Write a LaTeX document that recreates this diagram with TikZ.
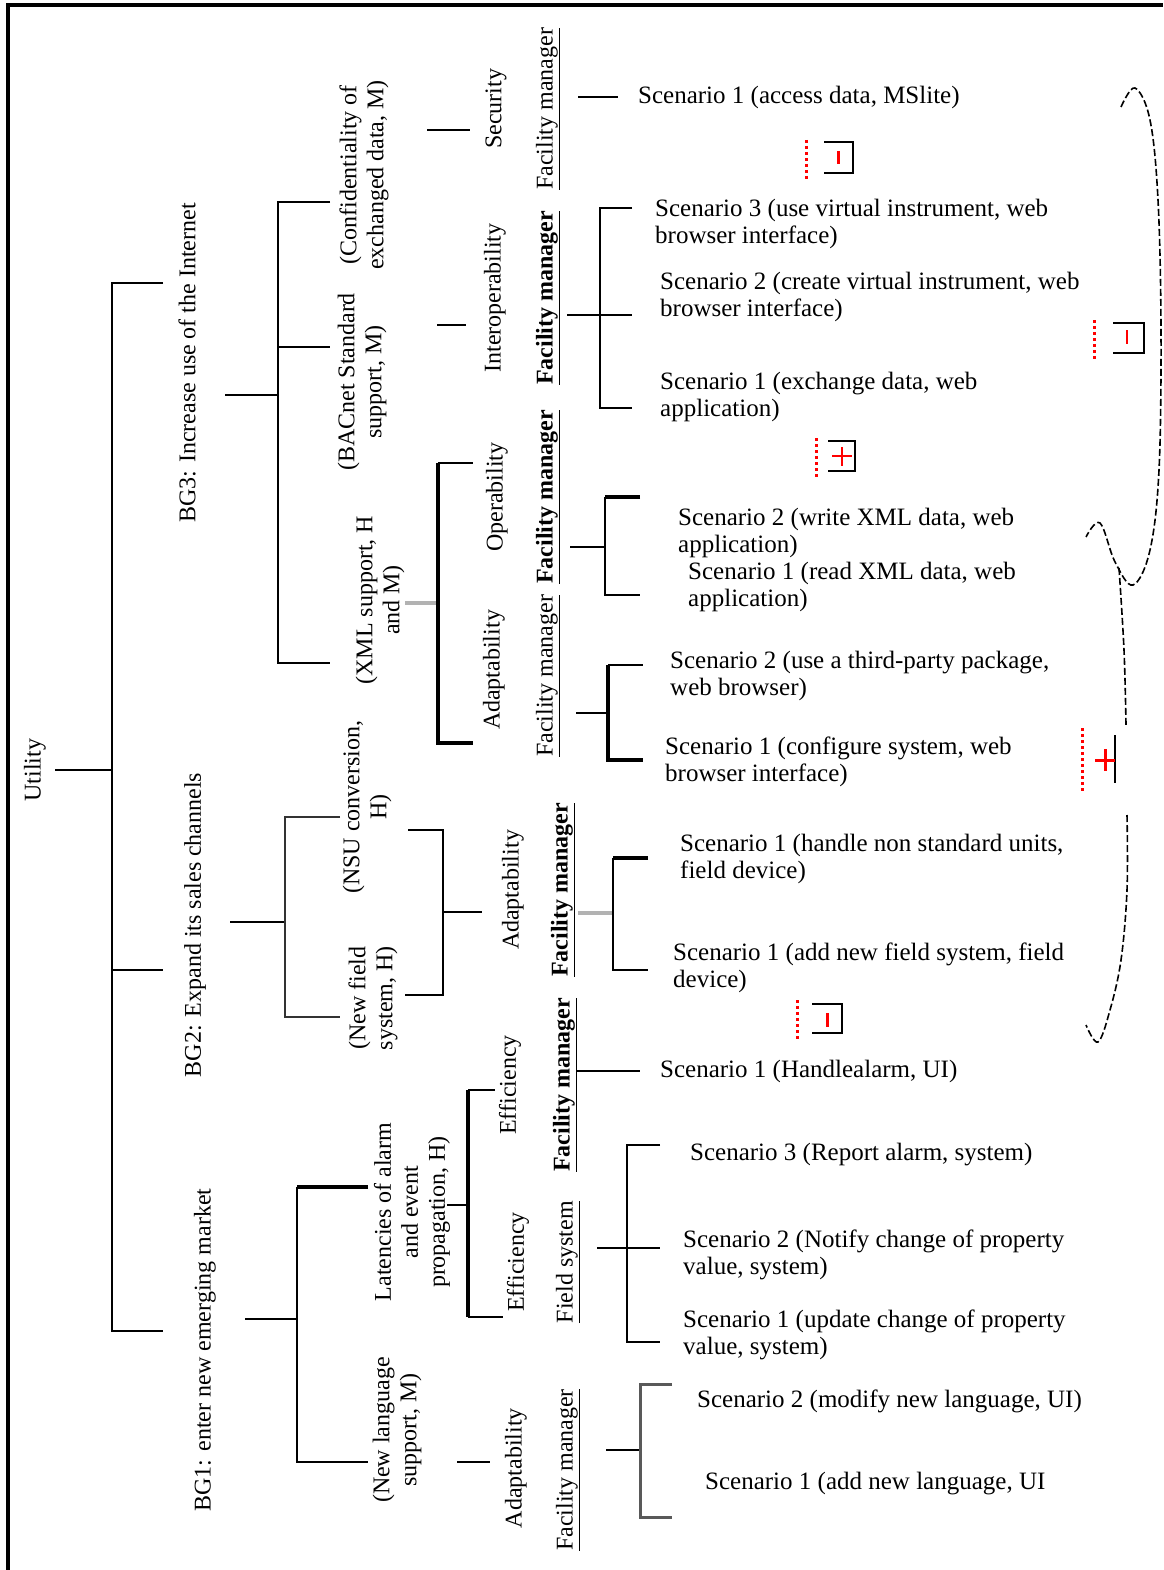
\documentclass[tikz,border=0pt]{standalone}
\usepackage{fontspec}
\setmainfont{Liberation Serif}
\newcommand\fmlab{\underline{Facility manager}}
\begin{document}
\begin{tikzpicture}[x=1pt,y=-1pt,
  lab/.style={rotate=90, inner sep=0pt, font=\fontsize{24}{27}\selectfont, align=center},
  scen/.style={anchor=west, inner sep=0pt, font=\fontsize{25}{27}\selectfont, align=left},
  ln/.style={line width=2pt},
  thk/.style={line width=4pt},
  gry/.style={line width=3.5pt, gray!60},
  mk/.style={red, line width=3pt, dash pattern=on 3pt off 3pt},
  brc/.style={line width=1.6pt, dash pattern=on 7pt off 3pt},
  rbar/.style={red, line width=3pt},
  bk/.style={line width=2pt}]
\useasboundingbox (0,0) rectangle (1163,1570);
\draw[line width=4pt] (8,1570) -- (8,5) -- (1163,5);

% ---- labels (rotated) ----
\node[lab] (utility) at (35,770) {Utility};
\node[lab] (bg3) at (187,363) {BG3: Increase use of the Internet};
\node[lab] (bg2) at (195,925) {BG2: Expand its sales channels};
\node[lab] (bg1) at (205,1350) {BG1: enter new emerging market};
\node[lab] (conf) at (364,175) {(Confidentiality of\\exchanged data, M)};
\node[lab] (bacnet) at (362,382) {(BACnet Standard\\support, M)};
\node[lab] (xml) at (380,600) {(XML support, H\\and M)};
\node[lab] (nsu) at (367,807) {(NSU conversion,\\H)};
\node[lab] (newfield) at (373,998) {(New field\\system, H)};
\node[lab] (latency) at (412,1212) {Latencies of alarm\\and event\\propagation, H)};
\node[lab] (lang) at (397,1430) {(New language\\support, M)};
\node[lab] (security) at (496,109) {Security};
\node[lab] (interop) at (495,298) {Interoperability};
\node[lab] (operab) at (497,497) {Operability};
\node[lab] (adaptA) at (494,670) {Adaptability};
\node[lab] (adaptB) at (513,890) {Adaptability};
\node[lab] (effA) at (510,1085) {Efficiency};
\node[lab] (effB) at (518,1262) {Efficiency};
\node[lab] (adaptC) at (516,1468) {Adaptability};
\node[lab] (fmA) at (548,109) {\fmlab};
\node[lab] (fmB) at (548,298) {\bfseries\fmlab};
\node[lab] (fmC) at (548,497) {\bfseries\fmlab};
\node[lab] (fmD) at (548,676) {\fmlab};
\node[lab] (fmE) at (563,890) {\bfseries\fmlab};
\node[lab] (fmF) at (565,1085) {\bfseries\fmlab};
\node[lab] (fsys) at (568,1262) {\underline{Field system}};
\node[lab] (fmG) at (568,1470) {\fmlab};

% ---- scenarios ----
\node[scen] (sA) at (638,97) {Scenario 1 (access data, MSlite)};
\node[scen] (sB3) at (655,224) {Scenario 3 (use virtual instrument, web\\browser interface)};
\node[scen] (sB2) at (660,297) {Scenario 2 (create virtual instrument, web\\browser interface)};
\node[scen] (sB1) at (660,397) {Scenario 1 (exchange data, web\\application)};
\node[scen] (sC2) at (678,533) {Scenario 2 (write XML data, web\\application)};
\node[scen] (sC1) at (688,587) {Scenario 1 (read XML data, web\\application)};
\node[scen] (sD2) at (670,676) {Scenario 2 (use a third-party package,\\web browser)};
\node[scen] (sD1) at (665,762) {Scenario 1 (configure system, web\\browser interface)};
\node[scen] (sE1) at (680,859) {Scenario 1 (handle non standard units,\\field device)};
\node[scen] (sE2) at (673,968) {Scenario 1 (add new field system, field\\device)};
\node[scen] (sF) at (660,1071) {Scenario 1 (Handlealarm, UI)};
\node[scen] (sG3) at (690,1155) {Scenario 3 (Report alarm, system)};
\node[scen] (sG2) at (683,1255) {Scenario 2 (Notify change of property\\value, system)};
\node[scen] (sG1) at (683,1335) {Scenario 1 (update change of property\\value, system)};
\node[scen] (sH2) at (697,1401) {Scenario 2 (modify new language, UI)};
\node[scen] (sH1) at (705,1484) {Scenario 1 (add new language, UI};

% ---- connectors ----
\draw[ln] (55,770) -- (112,770);
\draw[ln] (163,283) -- (112,283) -- (112,1331) -- (163,1331);
\draw[ln] (112,970) -- (163,970);
% BG3
\draw[ln] (225,395) -- (278,395);
\draw[line width=2.6pt] (330,202) -- (278,202) -- (278,663) -- (330,663);
\draw[ln] (278,347) -- (330,347);
\draw[ln] (427,130) -- (470,130);
\draw[ln] (578,97) -- (618,97);
\draw[ln] (437,325) -- (466,325);
\draw[ln] (567,315) -- (632,315);
\draw[ln] (632,208) -- (600,208) -- (600,408) -- (632,408);
\draw[gry] (405,603) -- (438,603);
\draw[ln] (438,463) -- (473,463);
\draw[thk] (438,463) -- (438,743) -- (473,743);
\draw[ln] (570,547) -- (605,547);
\draw[thk] (640,497) -- (605,497);
\draw[ln] (605,497) -- (605,595) -- (640,595);
\draw[ln] (576,713) -- (608,713);
\draw[ln] (608,665) -- (643,665);
\draw[line width=3.5pt] (608,665) -- (608,760) -- (643,760);
% BG2
\draw[ln] (230,922) -- (285,922);
\draw[ln, black!80] (340,817) -- (285,817) -- (285,1017) -- (340,1017);
\draw[ln] (408,830) -- (443,830) -- (443,995) -- (405,995);
\draw[ln] (443,912) -- (482,912);
\draw[gry] (578,913) -- (613,913);
\draw[thk] (648,858) -- (613,858);
\draw[ln] (613,858) -- (613,970) -- (648,970);
% BG1
\draw[ln] (245,1319) -- (297,1319);
\draw[thk] (368,1187) -- (297,1187);
\draw[ln] (297,1187) -- (297,1462) -- (368,1462);
\draw[ln] (447,1205) -- (468,1205);
\draw[thk] (468,1090) -- (468,1317);
\draw[ln] (468,1090) -- (495,1090);
\draw[ln] (468,1317) -- (503,1317);
\draw[ln] (576,1071) -- (640,1071);
\draw[ln] (597,1248) -- (660,1248);
\draw[ln] (660,1145) -- (627,1145) -- (627,1342) -- (660,1342);
\draw[ln] (457,1462) -- (490,1462);
\draw[ln] (606,1450) -- (640,1450);
\draw[line width=3pt, black!65] (672,1384) -- (640,1384) -- (640,1517) -- (672,1517);

% ---- markers ----
% marker 1 (minus)
\draw[mk] (806,140) -- (806,180);
\draw[bk] (824,142) -- (853,142) -- (853,173) -- (824,173);
\draw[rbar] (838,151) -- (838,164);
% marker 2 (minus)
\draw[mk] (1094,320) -- (1094,360);
\draw[bk] (1113,323) -- (1144,323) -- (1144,353) -- (1113,353);
\draw[rbar, line width=2pt] (1127,330) -- (1127,344);
% marker 4 (plus)
\draw[mk] (816,438) -- (816,478);
\draw[bk] (828,441) -- (855,441) -- (855,471) -- (828,471);
\draw[red, line width=2pt] (832,456) -- (852,456) (842,447) -- (842,466);
% marker 3 (plus)
\draw[mk] (1082,728) -- (1082,792);
\draw[bk] (1115,735) -- (1115,783);
\draw[red, line width=3pt] (1095,760) -- (1115,760) (1105,749) -- (1105,771);
% marker 5 (minus)
\draw[mk] (797,1000) -- (797,1040);
\draw[bk] (812,1004) -- (842,1004) -- (842,1033) -- (812,1033);
\draw[rbar] (827,1013) -- (827,1027);

% ---- braces ----
\draw[brc] plot[smooth, tension=0.6] coordinates {(1121,107) (1135,88) (1150,120) (1158,200) (1161,330) (1159,470) (1150,550) (1133,585) (1115,562) (1100,523) (1086,537)};
\draw[brc] plot[smooth, tension=0.6] coordinates {(1119,568) (1124,650) (1126,725)};
\draw[brc] plot[smooth, tension=0.6] coordinates {(1127,815) (1127,890) (1121,960) (1110,1010) (1098,1042) (1086,1025)};
\end{tikzpicture}
\end{document}
